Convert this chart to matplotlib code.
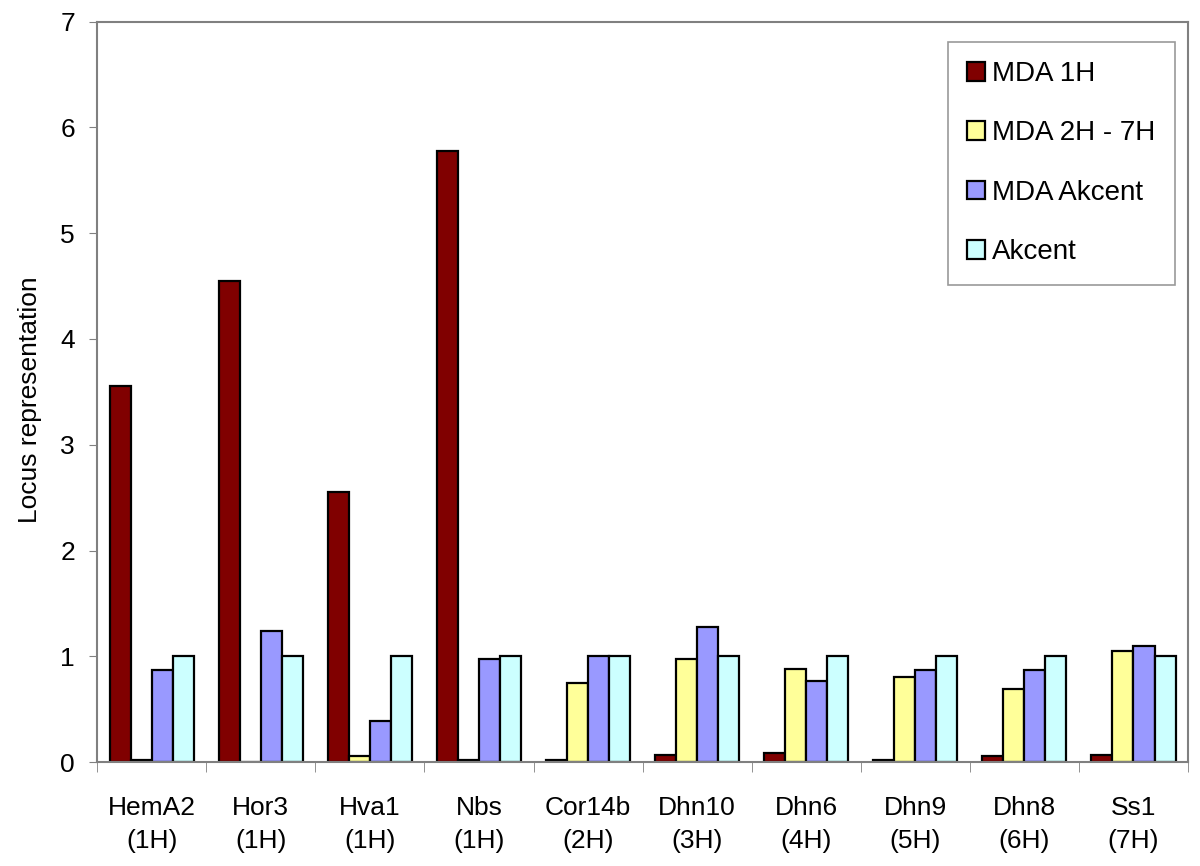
import numpy as np
import matplotlib.pyplot as plt

plt.rcParams['font.family'] = ['Liberation Sans', 'DejaVu Sans']

# data
genes = ["HemA2\n(1H)", "Hor3\n(1H)", "Hva1\n(1H)", "Nbs\n(1H)", "Cor14b\n(2H)",
         "Dhn10\n(3H)", "Dhn6\n(4H)", "Dhn9\n(5H)", "Dhn8\n(6H)", "Ss1\n(7H)"]
mda_1h = [3.56, 4.55, 2.55, 5.78, 0.02, 0.07, 0.09, 0.02, 0.06, 0.07]
mda_2h_7h = [0.02, 0.0, 0.06, 0.02, 0.75, 0.97, 0.88, 0.80, 0.69, 1.05]
mda_akcent = [0.87, 1.24, 0.39, 0.97, 1.00, 1.28, 0.77, 0.87, 0.87, 1.10]
akcent = [1.0, 1.0, 1.0, 1.0, 1.0, 1.0, 1.0, 1.0, 1.0, 1.0]

series = [("MDA 1H", mda_1h, "#800000"),
          ("MDA 2H - 7H", mda_2h_7h, "#FFFF99"),
          ("MDA Akcent", mda_akcent, "#9999FF"),
          ("Akcent", akcent, "#CCFFFF")]

fig = plt.figure(figsize=(12, 8.66), dpi=100)
ax = fig.add_axes([0.081, 0.12, 0.909, 0.855])

x = np.arange(len(genes))
w = 0.193
for i, (name, vals, col) in enumerate(series):
    ax.bar(x + (i - 1.5) * w, vals, w, color=col, edgecolor="black",
           linewidth=1.6, label=name)

ax.set_xlim(-0.5, len(genes) - 0.5)
ax.set_ylim(0, 7)
ax.set_yticks(range(8))
ax.tick_params(axis="y", labelsize=19, length=6, color="#808080", direction="out", pad=10)

# labels centred under groups, tick marks between groups
ax.set_xticks(x)
ax.set_xticklabels(genes, fontsize=19, linespacing=1.45)
ax.set_xticks(np.arange(-0.5, len(genes), 1), minor=True)
ax.tick_params(axis="x", which="major", length=0, pad=24.4)
ax.tick_params(axis="x", which="minor", length=7, color="#808080", direction="out")

for s in ax.spines.values():
    s.set_color("#808080")
    s.set_linewidth(1.5)

ax.set_ylabel("Locus representation", fontsize=19)
ax.yaxis.set_label_coords(-0.0504, 0.489)

leg = ax.legend(loc="upper right", bbox_to_anchor=(0.988, 0.973), fontsize=20,
                fancybox=False, edgecolor="#808080", handlelength=0.65,
                handleheight=0.65, handletextpad=0.25, labelspacing=1.2,
                borderpad=0.7, borderaxespad=0)
leg.get_frame().set_linewidth(1.2)

fig.savefig("out.png", dpi=100)
